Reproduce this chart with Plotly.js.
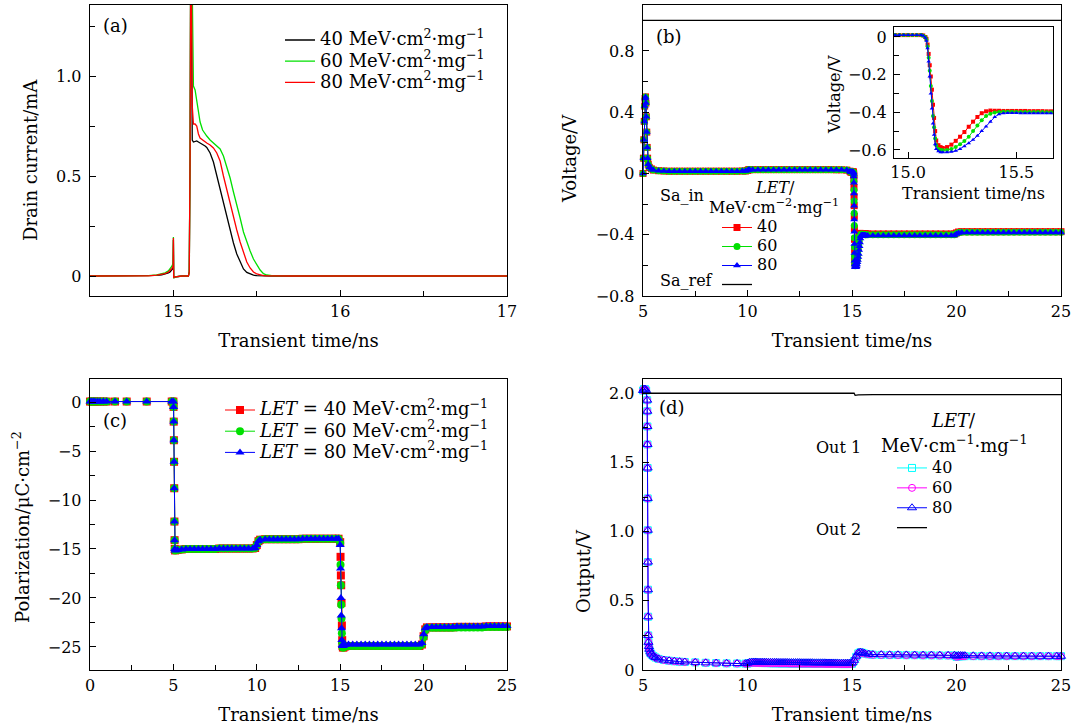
<!DOCTYPE html>
<html><head><meta charset="utf-8">
<script src="https://cdn.plot.ly/plotly-3.0.1.min.js"></script>
<style>html,body{margin:0;padding:0;background:#fff;}#chart{width:1075px;height:727px;}</style>
</head><body><div id="chart"></div>
<script>
// ---------------- Panel (a): drain current ----------------
const tA = [14.50,14.70,14.80,14.85,14.90,14.93,14.95,14.97,14.98,14.99,14.995,14.998,15.000,15.002,15.005,15.050,15.090,15.095,
  15.100,15.105,15.110,15.113,15.120,15.130,15.140,15.150,15.160,15.175,15.190,15.200,15.220,15.240,15.260,15.280,15.300,15.320,15.340,15.360,15.380,15.400,15.420,15.440,15.460,15.480,15.500,15.520,15.540,15.560,15.600,15.700,16.000,16.500,17.000];
const iA40 = [0,0,0,0.001,0.003,0.006,0.009,0.015,0.02,0.028,0.035,0.04,0.18,-0.01,-0.005,0,0,0.02,
  0.6,1.9,1.0,0.68,0.67,0.672,0.675,0.67,0.665,0.66,0.65,0.643,0.615,0.57,0.50,0.44,0.37,0.30,0.23,0.165,0.11,0.07,0.035,0.018,0.009,0.004,0.002,0.001,0,0,0,0,0,0,0];
const iA60 = [0,0,0.001,0.002,0.005,0.01,0.016,0.026,0.035,0.048,0.058,0.065,0.195,-0.012,-0.005,0,0,0.02,
  0.6,2.0,1.5,1.2,0.95,0.93,0.87,0.81,0.77,0.73,0.71,0.70,0.68,0.665,0.65,0.635,0.60,0.545,0.49,0.42,0.36,0.29,0.22,0.17,0.125,0.085,0.055,0.03,0.012,0.005,0.001,0,0,0,0];
const iA80 = [0,0,0,0.001,0.004,0.008,0.012,0.02,0.027,0.037,0.045,0.05,0.19,-0.01,-0.005,0,0,0.02,
  0.6,1.9,1.1,0.85,0.76,0.76,0.75,0.71,0.69,0.68,0.67,0.665,0.655,0.64,0.615,0.575,0.50,0.43,0.365,0.30,0.23,0.17,0.115,0.07,0.04,0.02,0.01,0.005,0.002,0.001,0,0,0,0,0];

// ---------------- Panel (b): Sa_in voltage ----------------
const tB1 = [5.00,5.02,5.04,5.06,5.08,5.10,5.12,5.14,5.16,5.18,5.20,5.22,5.25,5.30,5.40,5.50,
  5.75,6.00,6.25,6.50,6.75,7.00,7.25,7.50,7.75,8.00,8.25,8.50,8.75,9.00,9.25,9.50,9.75,
  9.90,10.00,10.05,10.10,
  10.25,10.50,10.75,11.00,11.25,11.50,11.75,12.00,12.25,12.50,12.75,13.00,13.25,13.50,13.75,14.00,14.25,14.50,14.75,
  14.90];
const vB1 = [0.00,0.10,0.22,0.34,0.44,0.49,0.50,0.46,0.37,0.27,0.17,0.10,0.06,0.04,0.03,0.022,
  0.018,0.016,0.015,0.015,0.015,0.015,0.015,0.015,0.015,0.015,0.015,0.015,0.015,0.015,0.015,0.015,0.016,
  0.016,0.02,0.024,0.025,
  0.025,0.025,0.025,0.025,0.025,0.025,0.025,0.025,0.025,0.025,0.025,0.025,0.025,0.025,0.025,0.025,0.024,0.024,0.022,
  0.015];
// detail around the strike (also the inset data)
const tIn = [14.94,14.96,14.98,15.00,15.02,15.04,15.06,15.07,15.08,
  15.085,15.09,15.095,15.10,15.105,15.11,15.115,15.12,15.125,15.13,
  15.14,15.15,15.16,
  15.18,15.20,15.22,15.24,15.26,15.28,15.30,15.32,15.34,15.36,15.38,15.40,15.42,15.44,15.46,15.48,15.50,15.52,15.54,15.56,15.58,15.60,15.62,15.64,15.66];
const vIn40 = [0.01,0.01,0.01,0.01,0.01,0.01,0.01,0.008,0.0,
  -0.01,-0.04,-0.09,-0.15,-0.21,-0.28,-0.36,-0.43,-0.50,-0.55,
  -0.575,-0.585,-0.59,
  -0.585,-0.572,-0.552,-0.53,-0.505,-0.477,-0.45,-0.425,-0.405,-0.395,-0.391,-0.392,-0.392,-0.393,-0.393,-0.393,-0.393,-0.393,-0.393,-0.394,-0.394,-0.394,-0.394,-0.395,-0.395];
const vIn60 = [0.01,0.01,0.01,0.01,0.01,0.01,0.01,0.007,-0.002,
  -0.015,-0.05,-0.11,-0.18,-0.26,-0.34,-0.42,-0.48,-0.54,-0.575,
  -0.595,-0.60,-0.602,
  -0.60,-0.595,-0.585,-0.57,-0.553,-0.53,-0.50,-0.47,-0.442,-0.42,-0.408,-0.401,-0.398,-0.397,-0.397,-0.397,-0.398,-0.398,-0.398,-0.398,-0.399,-0.399,-0.399,-0.40,-0.40];
const vIn80 = [0.01,0.01,0.01,0.01,0.01,0.01,0.01,0.006,-0.004,
  -0.02,-0.06,-0.13,-0.21,-0.30,-0.38,-0.46,-0.52,-0.57,-0.595,
  -0.607,-0.612,-0.613,
  -0.612,-0.61,-0.605,-0.595,-0.58,-0.565,-0.546,-0.525,-0.50,-0.475,-0.45,-0.425,-0.41,-0.405,-0.404,-0.404,-0.404,-0.405,-0.405,-0.405,-0.405,-0.405,-0.405,-0.405,-0.405];
const tB2 = [15.75,16.00,16.25,16.50,16.75,17.00,17.25,17.50,17.75,18.00,18.25,18.50,18.75,19.00,19.25,19.50,19.75,
  19.90,20.00,20.10,
  20.25,20.50,20.75,21.00,21.25,21.50,21.75,22.00,22.25,22.50,22.75,23.00,23.25,23.50,23.75,24.00,24.25,24.50,24.75,25.00];
const vB2_40 = [-0.395,-0.395,-0.395,-0.395,-0.395,-0.395,-0.395,-0.395,-0.395,-0.395,-0.395,-0.395,-0.395,-0.395,-0.395,-0.395,-0.395,
  -0.395,-0.388,-0.382,
  -0.38,-0.38,-0.38,-0.38,-0.38,-0.38,-0.38,-0.38,-0.38,-0.38,-0.38,-0.38,-0.38,-0.38,-0.38,-0.38,-0.38,-0.38,-0.38,-0.38];
const vB2_60 = [-0.40,-0.40,-0.40,-0.40,-0.40,-0.40,-0.40,-0.40,-0.40,-0.40,-0.40,-0.40,-0.40,-0.40,-0.40,-0.40,-0.40,
  -0.40,-0.392,-0.386,
  -0.383,-0.383,-0.383,-0.383,-0.383,-0.383,-0.383,-0.383,-0.383,-0.383,-0.383,-0.383,-0.383,-0.383,-0.383,-0.383,-0.383,-0.383,-0.383,-0.383];
const vB2_80 = [-0.405,-0.405,-0.405,-0.405,-0.405,-0.405,-0.405,-0.405,-0.405,-0.405,-0.405,-0.405,-0.405,-0.405,-0.405,-0.405,-0.405,
  -0.405,-0.396,-0.389,
  -0.385,-0.385,-0.385,-0.385,-0.385,-0.385,-0.385,-0.385,-0.385,-0.385,-0.385,-0.385,-0.385,-0.385,-0.385,-0.385,-0.385,-0.385,-0.385,-0.385];
const tRef = [5, 25];
const vRef = [1.0, 1.0];

// ---------------- Panel (c): polarization ----------------
const tC = [0,0.1,0.2,0.3,0.45,0.6,0.8,1.0,1.5,2.2,3.4,4.9,
  5.0,5.01,5.02,5.03,5.04,5.05,5.06,5.07,5.08,5.1,
  5.25,5.5,5.75,6.0,6.25,6.5,6.75,7.0,7.25,7.5,7.75,8.0,8.25,8.5,8.75,9.0,9.25,9.5,9.75,
  9.9,10.0,10.1,10.2,
  10.5,10.75,11.0,11.25,11.5,11.75,12.0,12.25,12.5,12.75,13.0,13.25,13.5,13.75,14.0,14.25,14.5,14.75,
  14.9,15.0,15.02,15.04,15.06,15.08,15.1,15.12,15.14,15.16,15.2,15.3,
  15.5,15.75,16.0,16.25,16.5,16.75,17.0,17.25,17.5,17.75,18.0,18.25,18.5,18.75,19.0,19.25,19.5,19.75,
  19.9,20.0,20.1,20.2,
  20.5,20.75,21.0,21.25,21.5,21.75,22.0,22.25,22.5,22.75,23.0,23.25,23.5,23.75,24.0,24.25,24.5,24.75,25.0];
const pC_head = [0.05,0.05,0.05,0.05,0.05,0.05,0.05,0.05,0.05,0.05,0.05,0.05,
  0.05,-0.5,-2.0,-3.9,-6.1,-8.8,-12.2,-14.1,-15.0,-15.15,
  -15.1,-15.05,-15.0,-15.0,-15.0,-15.0,-15.0,-15.0,-15.0,-15.0,-14.95,-14.95,-14.95,-14.95,-14.95,-14.95,-14.95,-14.95,-14.95,
  -14.9,-14.6,-14.2,-14.05,
  -14.0,-14.0,-14.0,-14.0,-14.0,-14.0,-14.0,-14.0,-14.0,-13.95,-13.95,-13.95,-13.95,-13.95,-13.95,-13.95,-13.95,-13.95];
const pC40_tail = [-13.95,-14.3,-15.8,-17.7,-18.7,-20.5,-22.8,-24.3,-24.9,-25.05,-25.05,-24.95,
  -24.9,-24.9,-24.9,-24.9,-24.9,-24.9,-24.9,-24.9,-24.9,-24.9,-24.9,-24.9,-24.9,-24.9,-24.9,-24.9,-24.9,-24.9,
  -24.75,-23.9,-23.2,-23.0,
  -23.0,-23.0,-23.0,-23.0,-23.0,-23.0,-22.95,-22.95,-22.95,-22.95,-22.95,-22.95,-22.95,-22.9,-22.9,-22.9,-22.9,-22.9,-22.9];
const pC60_tail = [-13.95,-14.4,-16.6,-18.7,-20.7,-22.1,-23.6,-24.6,-25.0,-25.05,-25.05,-24.95,
  -24.9,-24.9,-24.9,-24.9,-24.9,-24.9,-24.9,-24.9,-24.9,-24.9,-24.9,-24.9,-24.9,-24.9,-24.9,-24.9,-24.9,-24.9,
  -24.75,-24.0,-23.3,-23.05,
  -23.05,-23.05,-23.05,-23.05,-23.05,-23.05,-23.0,-23.0,-23.0,-23.0,-23.0,-23.0,-23.0,-22.95,-22.95,-22.95,-22.95,-22.95,-22.95];
const pC80_tail = [-13.95,-14.6,-17.0,-20.0,-21.8,-23.1,-24.3,-24.8,-24.9,-24.9,-24.85,-24.8,
  -24.75,-24.75,-24.75,-24.75,-24.75,-24.75,-24.75,-24.75,-24.75,-24.75,-24.75,-24.75,-24.75,-24.75,-24.75,-24.75,-24.75,-24.75,
  -24.6,-23.7,-23.1,-22.95,
  -22.95,-22.95,-22.95,-22.95,-22.95,-22.95,-22.9,-22.9,-22.9,-22.9,-22.9,-22.9,-22.9,-22.85,-22.85,-22.85,-22.85,-22.85,-22.85];

// ---------------- Panel (d): outputs ----------------
const tD = [5.0,5.05,5.1,5.15,5.2,5.205,5.21,5.215,5.22,5.225,5.23,5.235,5.24,5.245,5.25,5.26,5.28,5.3,5.35,5.4,5.5,5.6,5.75,
  6.0,6.25,6.5,6.75,7.0,7.5,8.0,8.5,9.0,9.5,9.9,
  10.0,10.1,10.2,10.3,10.4,10.5,10.6,10.7,10.8,10.9,11.0,11.1,11.2,11.3,11.4,11.5,11.6,11.7,11.8,11.9,
  12.0,12.1,12.2,12.3,12.4,12.5,12.6,12.7,12.8,12.9,13.0,13.1,13.2,13.3,13.4,13.5,13.6,13.7,13.8,13.9,
  14.0,14.1,14.2,14.3,14.4,14.5,14.6,14.7,14.8,14.9,
  15.0,15.1,15.2,15.3,15.4,15.5,15.6,15.8,
  16.0,16.4,16.8,17.2,17.6,18.0,18.4,18.8,19.2,19.6,19.9,
  20.0,20.1,20.2,20.3,20.4,
  20.8,21.2,21.6,22.0,22.4,22.8,23.2,23.6,24.0,24.4,24.8,25.0];
const oD_head = [2.02,2.03,2.03,2.02,1.95,1.87,1.76,1.63,1.46,1.24,1.01,0.78,0.58,0.385,0.25,0.20,0.17,0.15,0.13,0.115,0.10,0.09,0.08,
  0.072,0.067,0.063,0.06,0.058,0.055,0.052,0.05,0.048,0.047,0.046];
const oD80_tail = [0.050,0.056,0.058,0.058,0.058,0.057,0.057,0.057,0.057,0.057,0.056,0.056,0.056,0.056,0.056,0.055,0.055,0.055,0.055,0.055,
  0.054,0.054,0.054,0.054,0.054,0.054,0.053,0.053,0.053,0.053,0.053,0.053,0.052,0.052,0.052,0.052,0.052,0.052,0.051,0.051,
  0.051,0.051,0.051,0.051,0.050,0.050,0.050,0.050,0.050,0.050,
  0.05,0.07,0.10,0.125,0.13,0.125,0.12,0.115,
  0.112,0.111,0.11,0.11,0.109,0.108,0.108,0.107,0.107,0.106,0.106,
  0.10,0.105,0.105,0.104,0.104,
  0.103,0.102,0.102,0.101,0.101,0.1,0.1,0.1,0.099,0.099,0.099,0.099];
const oD4060_tail = [0.046,0.05,0.052,0.052,0.051,0.051,0.051,0.05,0.05,0.05,0.05,0.049,0.049,0.049,0.049,0.048,0.048,0.048,0.048,0.048,
  0.047,0.047,0.047,0.047,0.047,0.046,0.046,0.046,0.046,0.046,0.046,0.045,0.045,0.045,0.045,0.045,0.045,0.044,0.044,0.044,
  0.044,0.044,0.044,0.044,0.043,0.043,0.043,0.043,0.043,0.043,
  0.045,0.065,0.095,0.12,0.128,0.124,0.118,0.113,
  0.11,0.109,0.108,0.108,0.107,0.107,0.106,0.106,0.105,0.105,0.105,
  0.095,0.098,0.1,0.1,0.1,
  0.1,0.1,0.1,0.1,0.1,0.1,0.1,0.1,0.1,0.1,0.1,0.1];
const tOut2 = [5, 15.1, 15.15, 15.3, 16, 25];
const vOut2 = [2.0, 2.0, 1.985, 1.988, 1.99, 1.99];

// ---------------- build ----------------
const F = 'DejaVu Serif, Liberation Serif, serif';
const W = 1075, H = 727;
const RED = '#ff0000', GRN = '#00e000', BLU = '#0000ff', CYN = '#00ffff', MAG = '#ff00ff';
const big = t => '<span style="font-size:18px">' + t + '</span>';
const mid = t => '<span style="font-size:16px">' + t + '</span>';
const unit = 'MeV·cm<sup>2</sup>·mg<sup>−1</sup>';

const tB = tB1.concat(tIn, tB2);
const data = [
  {x:tA, y:iA40, xaxis:'x', yaxis:'y', mode:'lines', line:{color:'#000', width:1.3}, name:big('40 '+unit), legend:'legend'},
  {x:tA, y:iA60, xaxis:'x', yaxis:'y', mode:'lines', line:{color:GRN, width:1.3}, name:big('60 '+unit), legend:'legend'},
  {x:tA, y:iA80, xaxis:'x', yaxis:'y', mode:'lines', line:{color:RED, width:1.3}, name:big('80 '+unit), legend:'legend'},

  {x:tB, y:vB1.concat(vIn40, vB2_40), xaxis:'x2', yaxis:'y2', mode:'lines+markers', cliponaxis:false, line:{color:RED, width:1}, marker:{symbol:'square', size:7, color:RED}, name:mid('40'), legend:'legend2'},
  {x:tB, y:vB1.concat(vIn60, vB2_60), xaxis:'x2', yaxis:'y2', mode:'lines+markers', cliponaxis:false, line:{color:GRN, width:1}, marker:{symbol:'circle', size:7, color:GRN}, name:mid('60'), legend:'legend2'},
  {x:tB, y:vB1.concat(vIn80, vB2_80), xaxis:'x2', yaxis:'y2', mode:'lines+markers', cliponaxis:false, line:{color:BLU, width:1}, marker:{symbol:'triangle-up', size:7, color:BLU}, name:mid('80'), legend:'legend2'},
  {x:tRef, y:vRef, xaxis:'x2', yaxis:'y2', mode:'lines', line:{color:'#000', width:1.3}, name:' ', legend:'legend2'},

  {x:tIn, y:vIn40, xaxis:'x3', yaxis:'y3', mode:'lines+markers', line:{color:RED, width:1}, marker:{symbol:'square', size:4, color:RED}, showlegend:false},
  {x:tIn, y:vIn60, xaxis:'x3', yaxis:'y3', mode:'lines+markers', line:{color:GRN, width:1}, marker:{symbol:'circle', size:4, color:GRN}, showlegend:false},
  {x:tIn, y:vIn80, xaxis:'x3', yaxis:'y3', mode:'lines+markers', line:{color:BLU, width:1}, marker:{symbol:'triangle-up', size:4, color:BLU}, showlegend:false},

  {x:tC, y:pC_head.concat(pC40_tail), xaxis:'x4', yaxis:'y4', mode:'lines+markers', cliponaxis:false, line:{color:RED, width:1}, marker:{symbol:'square', size:8, color:RED}, name:big('<i>LET</i> = 40 '+unit), legend:'legend3'},
  {x:tC, y:pC_head.concat(pC60_tail), xaxis:'x4', yaxis:'y4', mode:'lines+markers', cliponaxis:false, line:{color:GRN, width:1}, marker:{symbol:'circle', size:8, color:GRN}, name:big('<i>LET</i> = 60 '+unit), legend:'legend3'},
  {x:tC, y:pC_head.concat(pC80_tail), xaxis:'x4', yaxis:'y4', mode:'lines+markers', cliponaxis:false, line:{color:BLU, width:1}, marker:{symbol:'triangle-up', size:8, color:BLU}, name:big('<i>LET</i> = 80 '+unit), legend:'legend3'},

  {x:tD, y:oD_head.concat(oD4060_tail), xaxis:'x5', yaxis:'y5', mode:'lines+markers', cliponaxis:false, line:{color:CYN, width:1}, marker:{symbol:'square-open', size:7, color:CYN}, name:mid('40'), legend:'legend4'},
  {x:tD, y:oD_head.concat(oD4060_tail), xaxis:'x5', yaxis:'y5', mode:'lines+markers', cliponaxis:false, line:{color:MAG, width:1}, marker:{symbol:'circle-open', size:7, color:MAG}, name:mid('60'), legend:'legend4'},
  {x:tD, y:oD_head.concat(oD80_tail), xaxis:'x5', yaxis:'y5', mode:'lines+markers', cliponaxis:false, line:{color:BLU, width:1}, marker:{symbol:'triangle-up-open', size:8, color:BLU}, name:mid('80'), legend:'legend4'},
  {x:tOut2, y:vOut2, xaxis:'x5', yaxis:'y5', mode:'lines', line:{color:'#000', width:1.3}, name:' ', legend:'legend4'}
];

const dx = (a,b) => [a/W, b/W];
const dy = (top,bot) => [1 - bot/H, 1 - top/H];
const minor = (d, t0) => ({ticks:'inside', ticklen:5, tickwidth:1, tickcolor:'#000', dtick:d, tick0:t0});
function ax(o){
  return Object.assign({showgrid:false, zeroline:false, showline:true, mirror:true, linecolor:'#000', linewidth:1.3,
    ticks:'inside', ticklen:6, tickwidth:1, tickcolor:'#000', tickmode:'linear',
    tickfont:{family:F, size:16, color:'#000'}, fixedrange:true}, o);
}
const xt = (txt, sz, so) => ({text:txt, standoff:so, font:{family:F, size:sz||18, color:'#000'}});

const layout = {
  width:W, height:H, margin:{l:0,r:0,t:0,b:0,pad:0},
  paper_bgcolor:'#fff', plot_bgcolor:'#fff', font:{family:F, color:'#000'}, showlegend:true,
  xaxis: ax({domain:dx(90,507), anchor:'y', range:[14.5,17], tick0:15, dtick:1, minor:minor(0.5,14.5), title:xt('Transient time/ns',18,15)}),
  yaxis: ax({domain:dy(5,296), anchor:'x', range:[-0.1,1.355], tick0:0, dtick:0.5, tickformat:'.1f', labelalias:{'0.0':'0'}, minor:minor(0.25,0), ticklabelstandoff:4}),
  xaxis2: ax({domain:dx(643,1061), anchor:'y2', range:[5,25], tick0:5, dtick:5, minor:minor(2.5,5), title:xt('Transient time/ns',18,15)}),
  yaxis2: ax({domain:dy(5,296), anchor:'x2', range:[-0.8,1.1], tick0:0, dtick:0.4, tickformat:'.1f', labelalias:{'0.0':'0'}, minor:minor(0.2,0), ticklabelstandoff:4}),
  xaxis3: ax({domain:dx(894,1053), anchor:'y3', range:[14.935,15.669], tick0:15, dtick:0.5, tickformat:'.1f', linewidth:1, title:xt('Transient time/ns',16,6)}),
  yaxis3: ax({domain:dy(27,158), anchor:'x3', range:[-0.643,0.053], tick0:0, dtick:0.2, tickformat:'.1f', labelalias:{'0.0':'0'}, minor:minor(0.1,0), linewidth:1, ticklabelstandoff:3}),
  xaxis4: ax({domain:dx(90,507), anchor:'y4', range:[0,25], tick0:0, dtick:5, minor:minor(2.5,0), title:xt('Transient time/ns',18,15)}),
  yaxis4: ax({domain:dy(379,670), anchor:'x4', range:[-27.35,2.35], tick0:0, dtick:5, minor:minor(2.5,0), ticklabelstandoff:4}),
  xaxis5: ax({domain:dx(643,1061), anchor:'y5', range:[5,25], tick0:5, dtick:5, minor:minor(2.5,5), title:xt('Transient time/ns',18,15)}),
  yaxis5: ax({domain:dy(379,670), anchor:'x5', range:[0,2.103], tick0:0, dtick:0.5, tickformat:'.1f', labelalias:{'0.0':'0'}, minor:minor(0.25,0), ticklabelstandoff:4}),
  legend:  {x:280/W, y:1-24.4/H, xanchor:'left', yanchor:'top', bgcolor:'rgba(0,0,0,0)', borderwidth:0, font:{family:F, size:14, color:'#000'}},
  legend2: {x:717/W, y:1-213/H, xanchor:'left', yanchor:'top', bgcolor:'rgba(0,0,0,0)', borderwidth:0, font:{family:F, size:12, color:'#000'}},
  legend3: {x:220/W, y:1-394.4/H, xanchor:'left', yanchor:'top', bgcolor:'rgba(0,0,0,0)', borderwidth:0, font:{family:F, size:14, color:'#000'}},
  legend4: {x:892/W, y:1-453/H, xanchor:'left', yanchor:'top', bgcolor:'rgba(0,0,0,0)', borderwidth:0, font:{family:F, size:13, color:'#000'}},
  annotations: []
};
function note(px, py, txt, sz, ang){
  layout.annotations.push({xref:'paper', yref:'paper', x:px/W, y:1-py/H, text:txt, showarrow:false,
    xanchor:'center', yanchor:'middle', textangle:ang||0, font:{family:F, size:sz||18, color:'#000'}});
}
note(115, 26, '(a)'); note(669, 37, '(b)'); note(115, 420, '(c)'); note(672, 407, '(d)');
note(30, 160, 'Drain current/mA', 18, -90);
note(569, 159, 'Voltage/V', 18, -90);
note(21, 527, 'Polarization/μC·cm<sup>−2</sup>', 18, -90);
note(583, 571, 'Output/V', 18, -90);
note(835, 95, 'Voltage/V', 16, -90);
note(682, 195, 'Sa_in', 16); note(775, 187, '<i>LET</i>/', 16); note(774, 206, 'MeV·cm<sup>−2</sup>·mg<sup>−1</sup>', 16); note(686, 280, 'Sa_ref', 16);
note(838, 447, 'Out 1', 16); note(953, 420, '<i>LET</i>/', 18); note(954, 444, 'MeV·cm<sup>−1</sup>·mg<sup>−1</sup>', 18); note(838, 529, 'Out 2', 16);

Plotly.newPlot('chart', data, layout, {staticPlot:true, displayModeBar:false});
</script></body></html>
